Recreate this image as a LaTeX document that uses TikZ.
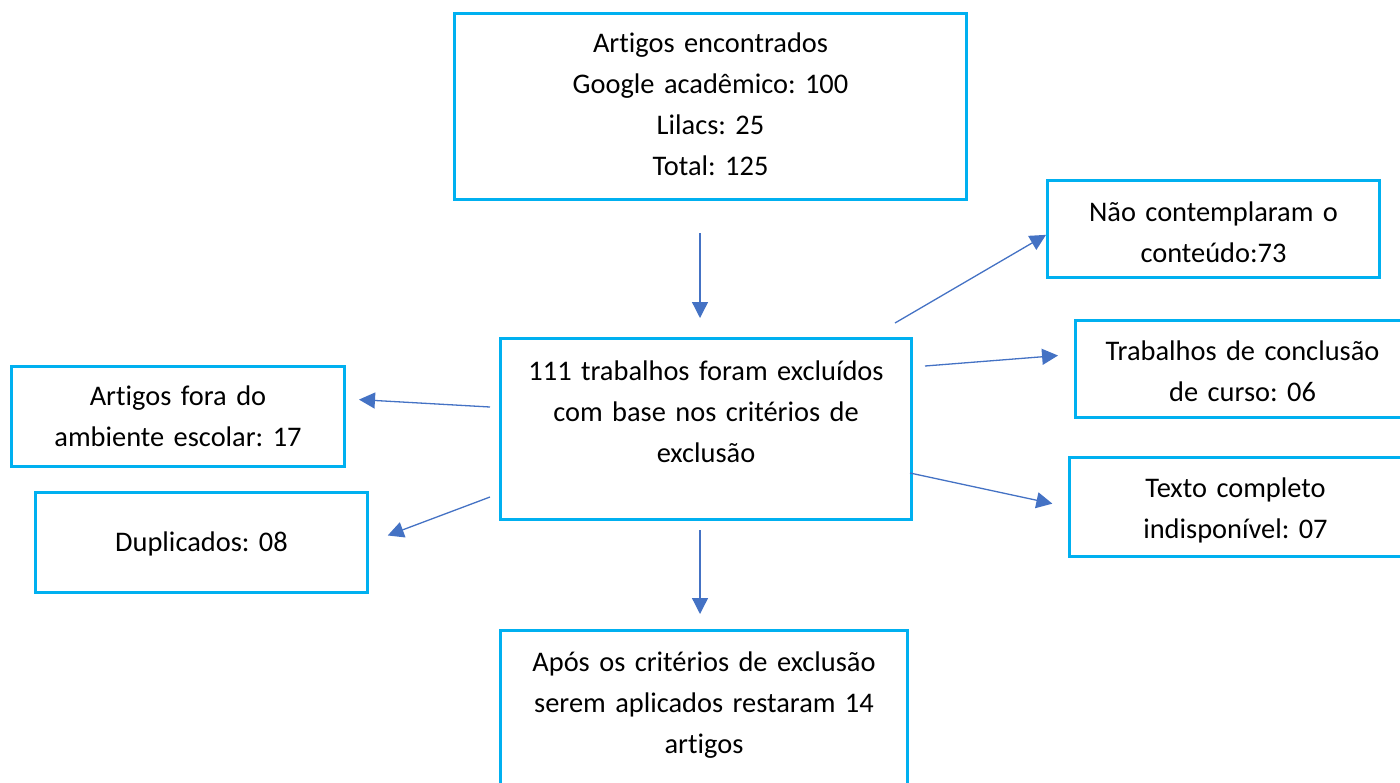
\documentclass[tikz,border=0pt]{standalone}
\usepackage{fontspec}
\setmainfont{Carlito}[Ligatures=NoCommon]
\usepackage{tikz}
\usetikzlibrary{arrows.meta,calc,positioning}
\definecolor{caixaazul}{HTML}{00B0F0}
\definecolor{setaazul}{HTML}{4472C4}
\frenchspacing

\begin{document}
\begin{tikzpicture}[x=0.5pt,y=-0.5pt,
  caixa/.style={draw=caixaazul,line width=1.5pt,anchor=north west,inner sep=0pt,
    align=center,font=\fontsize{14.2pt}{20.5pt}\selectfont},
  seta/.style={draw=setaazul,line width=0.65pt,-{Triangle[length=8pt,width=8pt]}}]
\useasboundingbox (0,0) rectangle (1400,782);

\node[caixa,text width=256pt,text height=19.25pt,text depth=73.75pt] (encontrados) at (453,12)
  {Artigos encontrados\\Google acadêmico: 100\\Lilacs: 25\\Total: 125};
\node[caixa,text width=205.5pt,text height=20.75pt,text depth=69.75pt] (excluidos) at (499,337)
  {111 trabalhos foram excluídos\\com base nos critérios de\\exclusão};
\node[caixa,text width=166pt,text height=20.25pt,text depth=28.25pt] (conteudo) at (1046,179)
  {Não contemplaram o\\conteúdo:73};
\node[caixa,text width=167pt,text height=19.75pt,text depth=28.75pt] (tcc) at (1074,319)
  {Trabalhos de conclusão\\de curso: 06};
\node[caixa,text width=166pt,text height=19.75pt,text depth=29.75pt] (indisponivel) at (1068,456)
  {Texto completo\\indisponível: 07};
\node[caixa,text width=166.5pt,text height=19.25pt,text depth=30.75pt] (ambiente) at (10,365)
  {Artigos fora do\\ambiente escolar: 17};
\node[caixa,text width=166pt,text height=29.25pt,text depth=20.75pt] (duplicados) at (34,491)
  {Duplicados: 08};
\node[caixa,text width=203.5pt,text height=20.25pt,text depth=65.25pt] (restantes) at (499,629)
  {Após os critérios de exclusão\\serem aplicados restaram 14\\artigos};

\coordinate (s1) at (700,233);
\coordinate (s2) at (700,530);
\coordinate (s3) at (895,323);
\coordinate (s4) at (925,366);
\coordinate (s5) at (910,473);
\coordinate (s6) at (490,407);
\coordinate (s7) at (490,497);

\draw[seta,shorten >=9.5pt] (s1) -- (s1 |- excluidos.north);
\draw[seta,shorten >=7.5pt] (s2) -- (s2 |- restantes.north);
\draw[seta] (s3) -- (conteudo.182);
\draw[seta,shorten >=8pt] (s4) -- (tcc.175);
\draw[seta,shorten >=8pt] (s5) -- (indisponivel.west);
\draw[seta,shorten >=6.5pt] (s6) -- (ambiente.6);
\draw[seta,shorten >=10pt] (s7) -- (duplicados.east);
\end{tikzpicture}
\end{document}
